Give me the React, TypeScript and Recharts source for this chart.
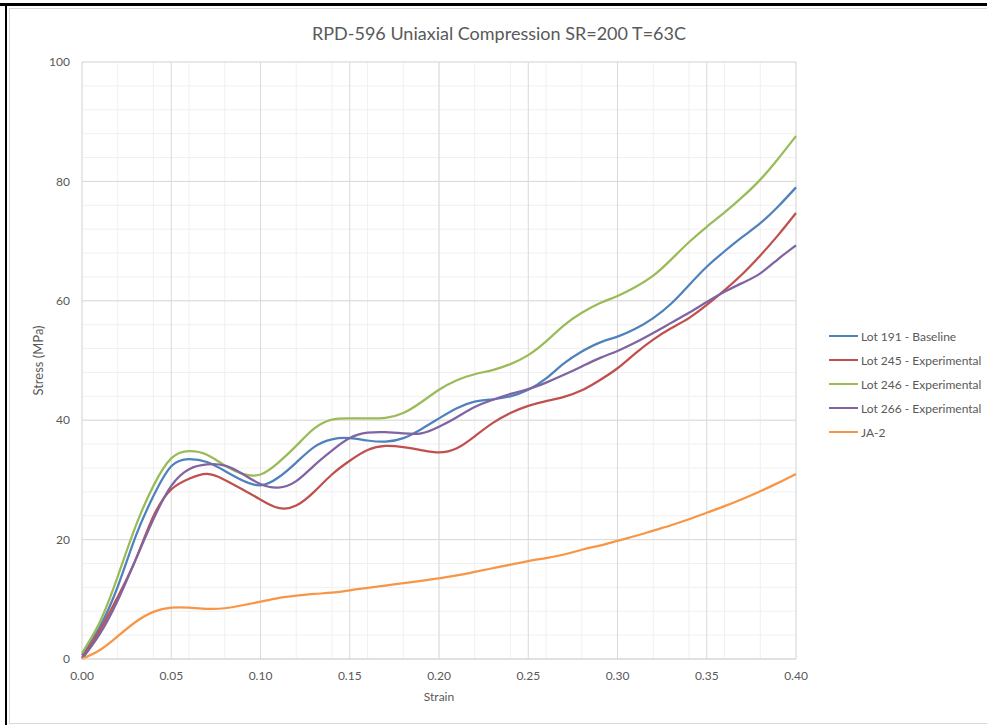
import React from 'react';
import { LineChart, Line, XAxis, YAxis, CartesianGrid, Legend, Label } from 'recharts';

const strain = [0, 0.01, 0.02, 0.03, 0.04, 0.05, 0.06, 0.07, 0.08, 0.09, 0.10, 0.11, 0.12, 0.13, 0.14, 0.15, 0.16, 0.17, 0.18, 0.19, 0.20, 0.21, 0.22, 0.23, 0.24, 0.25, 0.26, 0.27, 0.28, 0.29, 0.30, 0.31, 0.32, 0.33, 0.34, 0.35, 0.36, 0.37, 0.38, 0.39, 0.40];

const lot191 = [0.6, 5.4, 12.1, 20.5, 27.3, 32.3, 33.5, 33.0, 31.5, 29.9, 29.1, 30.4, 32.9, 35.5, 36.8, 37.0, 36.6, 36.4, 37.0, 38.5, 40.3, 42.0, 43.1, 43.5, 44.0, 45.1, 47.0, 49.5, 51.5, 53.0, 54.0, 55.3, 57.1, 59.5, 62.6, 65.7, 68.3, 70.7, 73.0, 75.8, 79.0];
const lot245 = [0.2, 4.8, 10.4, 16.6, 23.9, 28.4, 30.2, 31.0, 30.0, 28.4, 26.7, 25.3, 25.7, 28.0, 30.9, 33.2, 35.0, 35.7, 35.5, 35.0, 34.6, 35.3, 37.3, 39.5, 41.2, 42.4, 43.2, 43.9, 45.0, 46.7, 48.7, 51.2, 53.5, 55.4, 57.1, 59.3, 61.8, 64.5, 67.6, 71.0, 74.7];
const lot246 = [1.0, 6.2, 13.8, 22.2, 29.0, 33.6, 34.8, 34.2, 32.4, 31.0, 30.9, 32.9, 35.7, 38.6, 40.1, 40.3, 40.3, 40.4, 41.2, 43.0, 45.1, 46.7, 47.7, 48.4, 49.4, 50.9, 53.2, 55.9, 58.0, 59.6, 60.8, 62.3, 64.2, 66.9, 69.8, 72.4, 74.8, 77.4, 80.3, 83.8, 87.6];
const lot266 = [0.0, 4.2, 9.8, 16.6, 23.4, 29.0, 31.8, 32.6, 32.4, 31.0, 29.3, 28.7, 29.8, 32.4, 34.9, 37.0, 37.9, 38.0, 37.8, 37.8, 38.9, 40.5, 42.2, 43.4, 44.4, 45.2, 46.3, 47.6, 49.0, 50.4, 51.6, 53.0, 54.6, 56.3, 58.0, 59.8, 61.5, 63.0, 64.6, 67.0, 69.3];
const ja2 = [0, 1.5, 3.8, 6.2, 7.9, 8.6, 8.6, 8.4, 8.5, 9.0, 9.6, 10.2, 10.6, 10.9, 11.1, 11.5, 11.9, 12.3, 12.7, 13.1, 13.5, 14.0, 14.6, 15.2, 15.8, 16.4, 16.9, 17.5, 18.3, 19.0, 19.8, 20.6, 21.5, 22.4, 23.4, 24.5, 25.6, 26.8, 28.1, 29.5, 31.0];

const seriesKeys = ['lot191', 'lot245', 'lot246', 'lot266', 'ja2'];
const seriesNames = ['Lot 191 - Baseline', 'Lot 245 - Experimental', 'Lot 246 - Experimental', 'Lot 266 - Experimental', 'JA-2'];
const seriesColors = ['#4F81BD', '#C0504D', '#9BBB59', '#8064A2', '#F79646'];
const seriesValues = [lot191, lot245, lot246, lot266, ja2];

const xTicks = [0, 0.05, 0.1, 0.15, 0.2, 0.25, 0.3, 0.35, 0.4];
const xMinorTicks = Array.from({ length: 41 }, (_, i) => i / 100);
const yTicks = [0, 20, 40, 60, 80, 100];
const yMinorTicks = Array.from({ length: 26 }, (_, i) => i * 4);

const title = 'RPD-596 Uniaxial Compression  SR=200 T=63C';
const xLabel = 'Strain';
const yLabel = 'Stress (MPa)';

const data = strain.map((s, i) => {
  const row: any = { strain: s };
  seriesKeys.forEach((k, j) => { row[k] = seriesValues[j][i]; });
  return row;
});

const FONT = 'Lato, "Open Sans", sans-serif';
const TXT = '#595959';

const LegendContent = () => (
  <div style={{ fontFamily: FONT, fontSize: 12, color: TXT }}>
    {seriesNames.map((n, i) => (
      <div key={n} style={{ display: 'flex', alignItems: 'center', height: 24 }}>
        <div style={{ width: 29, height: 2, background: seriesColors[i], marginRight: 3 }} />
        <span>{n}</span>
      </div>
    ))}
  </div>
);

export default function App() {
  return (
    <div style={{ position: 'absolute', left: 0, top: 0, width: 987, height: 725, background: '#fff', overflow: 'hidden' }}>
      <div style={{ position: 'absolute', left: 9, top: 8, width: 1000, height: 714, border: '1px solid #d9d9d9' }} />
      <div style={{ position: 'absolute', left: 0, top: 3, width: 987, height: 3, background: '#000' }} />
      <div style={{ position: 'absolute', left: 5, top: 3, width: 2, height: 722, background: '#000' }} />
      <div style={{ position: 'absolute', left: 0, top: 22, width: 998, textAlign: 'center', fontFamily: FONT, fontSize: 18, color: TXT }}>
        {title}
      </div>
      <div style={{ position: 'absolute', left: 0, top: 0 }}>
        <LineChart width={987} height={725} data={data} margin={{ top: 62, right: 191, bottom: 36, left: 32 }}>
          <CartesianGrid stroke="#f0f0f0" strokeWidth={1} horizontalValues={yMinorTicks} verticalValues={xMinorTicks} />
          <XAxis
            dataKey="strain"
            type="number"
            domain={[0, 0.4]}
            ticks={xTicks}
            tickFormatter={(v: number) => v.toFixed(2)}
            height={30}
            tickSize={0}
            tickMargin={12}
            axisLine={{ stroke: '#d9d9d9' }}
            tick={{ fill: TXT, fontSize: 12, fontFamily: FONT }}
          >
            <Label value={xLabel} position="insideBottom" offset={-12} style={{ fill: TXT, fontSize: 12, fontFamily: FONT }} />
          </XAxis>
          <YAxis
            type="number"
            domain={[0, 100]}
            ticks={yTicks}
            width={50}
            tickSize={0}
            tickMargin={12}
            axisLine={false}
            tick={{ fill: TXT, fontSize: 12, fontFamily: FONT }}
          >
            <Label value={yLabel} angle={-90} position="insideLeft" offset={6} style={{ fill: TXT, fontSize: 13, fontFamily: FONT, textAnchor: 'middle' }} />
          </YAxis>
          <CartesianGrid stroke="#d9d9d9" strokeWidth={1} />
          {seriesKeys.map((k, i) => (
            <Line
              key={k}
              dataKey={k}
              name={seriesNames[i]}
              type="natural"
              stroke={seriesColors[i]}
              strokeWidth={2.25}
              dot={false}
              isAnimationActive={false}
            />
          ))}
          <Legend
            layout="vertical"
            align="center"
            verticalAlign="middle"
            content={<LegendContent />}
            wrapperStyle={{ left: 829, top: 324, width: 'auto', height: 'auto' }}
          />
        </LineChart>
      </div>
    </div>
  );
}
